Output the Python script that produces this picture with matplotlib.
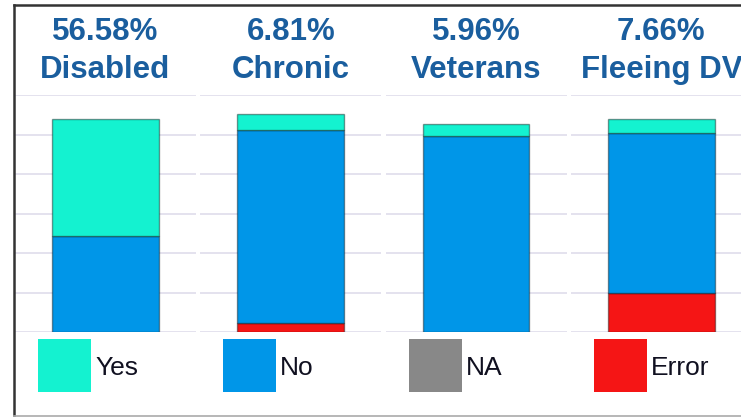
import matplotlib
matplotlib.use("Agg")
import matplotlib.pyplot as plt
from matplotlib.patches import Rectangle
from matplotlib.lines import Line2D

plt.rcParams['font.family'] = ['Liberation Sans', 'DejaVu Sans']

categories = ['Disabled', 'Chronic', 'Veterans', 'Fleeing DV']
pct_labels = ['56.58%', '6.81%', '5.96%', '7.66%']
series = ['Yes', 'No', 'NA', 'Error']
colors = ['#14F2D0', '#0096E8', '#888888', '#F51515']

# counts per category, stacked bottom -> top is Error, NA, No, Yes
yes_vals = [298, 40, 30, 36]
no_vals = [242, 488, 497, 406]
na_vals = [0, 0, 0, 0]
error_vals = [0, 24, 0, 98]

W, H = 741, 417
fig = plt.figure(figsize=(W / 100, H / 100), dpi=100)

# outer frame (right side cropped off)
fig.add_artist(Line2D([14 / W, 1], [1 - 5 / H, 1 - 5 / H], color='#333333', lw=1.8))
fig.add_artist(Line2D([14 / W, 14 / W], [1 - 5 / H, 1 - 415 / H], color='#333333', lw=1.8))
fig.add_artist(Line2D([14 / W, 1], [1 - 415.5 / H, 1 - 415.5 / H], color='#aaaaaa', lw=1.2))

panel_w = 181
bottom_px, top_px = 332, 95
ax_h = bottom_px - top_px
for i, cat in enumerate(categories):
    left = 15 + i * 185.3
    ax = fig.add_axes([left / W, 1 - bottom_px / H, panel_w / W, ax_h / H])
    ax.set_xlim(-0.5, 0.5)
    ax.set_ylim(0, 600)
    ax.set_yticks(range(0, 601, 100))
    ax.grid(axis='y', color='#e4e2ee', lw=1.4)
    ax.set_axisbelow(True)
    for s in ax.spines.values():
        s.set_visible(False)
    ax.tick_params(left=False, bottom=False, labelleft=False, labelbottom=False)
    ax.patch.set_alpha(0)
    base = 0
    for vals, col in zip([error_vals, na_vals, no_vals, yes_vals],
                         [colors[3], colors[2], colors[1], colors[0]]):
        v = vals[i]
        if v > 0:
            ax.bar(0, v, bottom=base, width=0.59, color=col,
                   edgecolor=(0, 0, 0, 0.4), linewidth=1.0)
        base += v
    ax.text(0.5, (bottom_px - 40) / ax_h, pct_labels[i], transform=ax.transAxes,
            ha='center', va='baseline', fontsize=22.5, fontweight='bold',
            color='#1A5E9E', clip_on=False)
    ax.text(0.5, (bottom_px - 78) / ax_h, cat, transform=ax.transAxes,
            ha='center', va='baseline', fontsize=22.5, fontweight='bold',
            color='#1A5E9E', clip_on=False)

# legend row
lax = fig.add_axes([0, 0, 1, 1])
lax.set_xlim(0, W)
lax.set_ylim(H, 0)
lax.axis('off')
lax.patch.set_alpha(0)
for i, (name, col) in enumerate(zip(series, colors)):
    x0 = 38 + i * 185.3
    lax.add_patch(Rectangle((x0, 339), 53, 53, facecolor=col, edgecolor='none'))
    lax.text(x0 + 57, 368, name, ha='left', va='center', fontsize=19, color='#101020')

fig.savefig('out.png', dpi=100)
